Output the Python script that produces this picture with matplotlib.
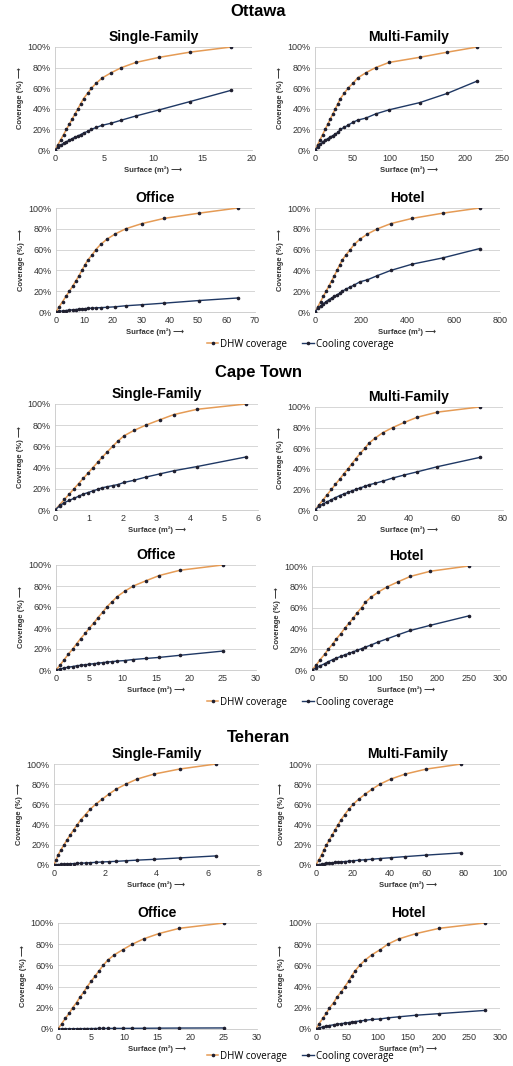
import numpy as np
import matplotlib.pyplot as plt

plt.rcParams['font.family'] = ['Liberation Sans', 'DejaVu Sans']

W, H = 513, 1066

# DHW coverage levels (%) shared by all panels
dhw = [0, 5, 10, 15, 20, 25, 30, 35, 40, 45, 50, 55, 60, 65, 70, 75, 80, 85, 90, 95, 100]

# Ottawa
ott_sf_x = [0, 0.29, 0.58, 0.87, 1.16, 1.45, 1.74, 2.03, 2.32, 2.61, 2.9, 3.3, 3.7, 4.2, 4.8, 5.7, 6.75, 8.2, 10.6, 13.7, 17.9]
ott_sf_cool = [0, 2.5, 4.5, 6.5, 8, 9.5, 11, 12.5, 13.5, 15, 16.5, 18, 20, 22, 24, 26, 29, 33, 39, 47, 58]
ott_mf_x = [0, 3.4, 6.8, 10.2, 13.6, 17, 20.4, 23.8, 27.2, 30.6, 34, 39, 44, 51, 57, 68, 81, 99, 140, 177, 217]
ott_mf_cool = [0, 3, 5.5, 7.5, 9.5, 11, 12.5, 14, 15.5, 17, 20, 22, 24, 27, 29, 31, 35, 39, 46, 55, 67]
ott_of_x = [0, 1.1, 2.3, 3.5, 4.7, 5.9, 7.0, 8.1, 9.1, 10.1, 11.2, 12.7, 14, 15.7, 17.9, 20.8, 24.5, 30.2, 38, 50.2, 64]
ott_of_cool = [0, 0.6, 1.0, 1.4, 1.8, 2.1, 2.4, 2.7, 3.0, 3.2, 3.5, 3.7, 4.0, 4.2, 4.5, 5, 6, 7, 8.5, 11, 13.5]
ott_ho_x = [0, 12, 24, 36, 48, 60, 72, 84, 95, 106, 118, 134, 152, 170, 194, 227, 270, 328, 420, 552, 712]
ott_ho_cool = [0, 3.5, 6, 8, 10, 12, 13.5, 15, 16.5, 18, 20, 22, 24, 26, 29, 31, 35, 40, 46, 52, 61]

# Cape Town
cpt_sf_x = [0, 0.14, 0.28, 0.42, 0.56, 0.7, 0.84, 0.98, 1.12, 1.26, 1.4, 1.55, 1.7, 1.86, 2.04, 2.33, 2.68, 3.09, 3.51, 4.2, 5.64]
cpt_sf_cool = [0, 4, 7, 9, 11, 13, 15, 16.5, 18, 19.5, 21, 22, 23, 24, 26, 28, 31, 34, 37, 41, 50]
cpt_mf_x = [0, 1.7, 3.5, 5.2, 7, 8.7, 10.5, 12.2, 14, 15.7, 17.4, 19.3, 21.2, 23, 25.7, 28.8, 33, 38, 43.4, 52, 70]
cpt_mf_cool = [0, 3.5, 6, 8, 10, 12, 14, 15.5, 17, 18.5, 20, 21.5, 23, 24.5, 26, 28, 31, 34, 37, 42, 51]
cpt_of_x = [0, 0.65, 1.25, 1.85, 2.5, 3.1, 3.7, 4.4, 5.0, 5.7, 6.3, 7.0, 7.6, 8.4, 9.2, 10.3, 11.6, 13.5, 15.5, 18.6, 25]
cpt_of_cool = [0, 1, 2, 2.7, 3.3, 4, 4.5, 5, 5.5, 6, 6.5, 7, 7.5, 8, 8.5, 9, 10, 11, 12, 14, 18]
cpt_ho_x = [0, 7, 13, 20, 26, 33, 39, 46, 52, 59, 66, 72, 79, 85, 94, 106, 120, 138, 157, 189, 250]
cpt_ho_cool = [0, 2, 4, 6, 8, 10, 11.5, 13, 14.5, 16, 17.5, 19, 20.5, 22, 24, 27, 30, 34, 38, 43, 52]

# Teheran
teh_sf_x = [0, 0.08, 0.16, 0.27, 0.39, 0.51, 0.64, 0.77, 0.91, 1.05, 1.23, 1.4, 1.62, 1.87, 2.13, 2.42, 2.8, 3.23, 3.9, 4.9, 6.32]
teh_sf_cool = [0, 0.2, 0.4, 0.6, 0.8, 1.0, 1.2, 1.4, 1.6, 1.8, 2.0, 2.3, 2.6, 3.0, 3.3, 3.6, 4.2, 4.8, 5.6, 7, 9]
teh_mf_x = [0, 1.5, 3, 4.3, 5.7, 7.3, 8.9, 10.4, 12, 13.7, 15.6, 17.7, 20.1, 23.1, 26.6, 30.4, 34.7, 40.5, 48.4, 60, 79]
teh_mf_cool = [0, 0.4, 0.8, 1.2, 1.6, 1.9, 2.2, 2.5, 2.8, 3.1, 3.4, 3.7, 4.2, 4.7, 5.2, 5.7, 6.4, 7.2, 8.3, 9.8, 12]
teh_of_x = [0, 0.55, 1.1, 1.7, 2.2, 2.8, 3.3, 3.9, 4.4, 5.0, 5.6, 6.2, 6.8, 7.5, 8.5, 9.8, 11.2, 12.9, 15.2, 18.3, 25]
teh_of_cool = [0, 0.1, 0.15, 0.2, 0.25, 0.3, 0.3, 0.35, 0.4, 0.4, 0.45, 0.5, 0.5, 0.55, 0.6, 0.6, 0.65, 0.7, 0.8, 0.9, 1.0]
teh_ho_x = [0, 5, 11, 17, 22, 29, 34, 41, 47, 53, 58, 64, 71, 80, 91, 105, 117, 135, 163, 201, 275]
teh_ho_cool = [0, 1, 2, 2.7, 3.3, 4, 4.5, 5, 5.5, 6, 6.5, 7, 7.5, 8.2, 9, 9.5, 10.5, 11.5, 13, 14.5, 17.5]

cities = ["Ottawa", "Cape Town", "Teheran"]
city_title_y = [12, 372, 738]
legend_y = [344, 702, 1056]
titles = ["Single-Family", "Multi-Family", "Office", "Hotel"]

panels = [
    # (x, cooling, xmax, xstep, left, right, top, bottom)
    (ott_sf_x, ott_sf_cool, 20, 5, 55, 252, 47, 150),
    (ott_mf_x, ott_mf_cool, 250, 50, 315, 502, 47, 150),
    (ott_of_x, ott_of_cool, 70, 10, 56, 255, 208, 312),
    (ott_ho_x, ott_ho_cool, 800, 200, 315, 500, 208, 312),
    (cpt_sf_x, cpt_sf_cool, 6, 1, 55, 258, 404, 510),
    (cpt_mf_x, cpt_mf_cool, 80, 20, 315, 503, 407, 510),
    (cpt_of_x, cpt_of_cool, 30, 5, 56, 256, 565, 670),
    (cpt_ho_x, cpt_ho_cool, 300, 50, 312, 500, 566, 670),
    (teh_sf_x, teh_sf_cool, 8, 2, 54, 259, 764, 865),
    (teh_mf_x, teh_mf_cool, 100, 20, 316, 500, 764, 865),
    (teh_of_x, teh_of_cool, 30, 5, 58, 257, 923, 1029),
    (teh_ho_x, teh_ho_cool, 300, 50, 316, 500, 923, 1029),
]

orange = "#e59b55"
navy = "#1f3864"
mk = "#202030"

fig = plt.figure(figsize=(W / 100, H / 100), dpi=100)

for i, (x, cool, xmax, xstep, l, r, t, b) in enumerate(panels):
    ax = fig.add_axes([l / W, 1 - b / H, (r - l) / W, (b - t) / H])
    ax.plot(x, dhw, color=orange, lw=1.1, marker="o", ms=1.6,
            mfc=mk, mec=mk, label="DHW coverage", zorder=3)
    ax.plot(x, cool, color=navy, lw=1.0, marker="o", ms=1.6,
            mfc=mk, mec=mk, label="Cooling coverage", zorder=3)
    ax.set_xlim(0, xmax)
    ax.set_ylim(0, 100)
    ax.set_xticks(np.arange(0, xmax + xstep / 2, xstep))
    ax.set_yticks([0, 20, 40, 60, 80, 100])
    ax.set_yticklabels(["0%", "20%", "40%", "60%", "80%", "100%"])
    ax.tick_params(length=0, labelsize=6.5, labelcolor="#333333", pad=3)
    ax.grid(axis="y", color="#d0d0d0", lw=0.6)
    ax.set_axisbelow(True)
    for s in ["top", "right"]:
        ax.spines[s].set_visible(False)
    for s in ["left", "bottom"]:
        ax.spines[s].set_color("#c8c8c8")
        ax.spines[s].set_linewidth(0.6)
    ax.set_xlabel("Surface (m²) \u27f6", fontsize=5.5, fontweight="bold",
                  color="#333333", labelpad=2)
    ax.set_ylabel("Coverage (%) \u27f6", fontsize=5.5, fontweight="bold",
                  color="#333333", labelpad=3)
    ax.set_title(titles[i % 4], fontsize=10, fontweight="bold", pad=4)
    if i % 4 == 3:
        handles, labels = ax.get_legend_handles_labels()
        fig.legend(handles, labels, loc="center", ncol=2, frameon=False,
                   bbox_to_anchor=(300 / W, 1 - legend_y[i // 4] / H),
                   prop={"family": "Open Sans", "size": 7},
                   handlelength=1.2, handletextpad=0.2, columnspacing=1.5)

for name, y in zip(cities, city_title_y):
    fig.text(0.503, 1 - y / H, name, ha="center", va="center",
             fontsize=12, fontweight="bold")

fig.savefig("out.png", dpi=100)
